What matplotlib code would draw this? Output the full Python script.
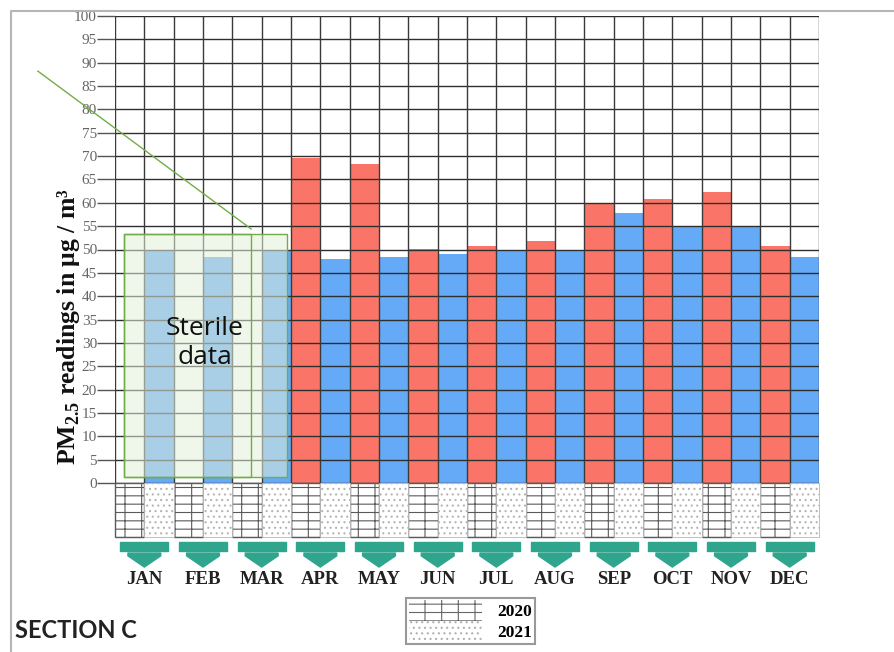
import numpy as np
import matplotlib.pyplot as plt
from matplotlib.patches import Rectangle, Polygon, Patch
from matplotlib.lines import Line2D

plt.rcParams['mathtext.fontset'] = 'custom'
plt.rcParams['mathtext.rm'] = 'Liberation Serif:bold'
plt.rcParams['mathtext.bf'] = 'Liberation Serif:bold'
plt.rcParams['hatch.linewidth'] = 0.8

# Дані (PM2.5, мкг/м3)
months = ['JAN', 'FEB', 'MAR', 'APR', 'MAY', 'JUN',
          'JUL', 'AUG', 'SEP', 'OCT', 'NOV', 'DEC']
pm_2020 = [np.nan, np.nan, np.nan, 69.5, 68.4, 50.1, 50.7, 51.8, 60.0, 60.8, 62.3, 50.8]
pm_2021 = [49.8, 48.4, 49.8, 48.0, 48.4, 49.0, 50.0, 50.0, 57.8, 55.0, 55.0, 48.5]
years = ['2020', '2021']
yticks = list(range(0, 101, 5))

red = '#fa7568'
blue = '#65aaf6'
teal = '#2fa58d'
green = '#70ad47'

fig = plt.figure(figsize=(8.95, 6.52), dpi=100)
ax = fig.add_axes([115 / 895, 1 - 483 / 652, 704 / 895, 467 / 652])

x20 = np.arange(len(months)) * 2
x21 = x20 + 1

ax.bar(x20, np.nan_to_num(pm_2020), width=1, align='edge', color=red, zorder=2)
ax.bar(x21, pm_2021, width=1, align='edge', color=blue, zorder=2)

# нижні заштриховані блоки
ax.bar(x20, -11.6, width=1, align='edge', color='white', edgecolor='#5a5a5a',
       hatch='--|', linewidth=1.0, clip_on=False, zorder=2)
ax.bar(x21, -11.6, width=1, align='edge', color='white', edgecolor='#b5b5b5',
       hatch='...', linewidth=0.6, clip_on=False, zorder=2)

# сітка
ax.set_xlim(0, 24)
ax.set_ylim(0, 100)
ax.set_yticks(yticks)
ax.yaxis.grid(True, color='#2e2e2e', linewidth=1.0, zorder=3)
ax.set_axisbelow(False)
ax.vlines(np.arange(25), 0, 100, color='#3a3a3a', linewidth=1.0, zorder=3)
for s in ax.spines.values():
    s.set_visible(False)
ax.tick_params(axis='y', length=13, width=1.0, color='#555555', pad=0,
               labelsize=11, labelcolor='#666666')
for t in ax.get_yticklabels():
    t.set_fontfamily('Liberation Serif')

ax.set_xticks(x21)
ax.set_xticklabels(months, fontfamily='Liberation Serif', fontweight='bold',
                   fontsize=13.5, color='#222222')
ax.tick_params(axis='x', length=0, pad=63)

ax.set_ylabel(r'PM$_{\mathbf{2.5}}$ readings in μg / m³',
              fontfamily='Liberation Serif', fontweight='bold', fontsize=18.5,
              color='#111111')
ax.yaxis.set_label_coords(-33 / 704, 0.334)

# стрілки
for c in x21:
    top = Polygon([(c - 0.82, -12.6), (c + 0.82, -12.6), (c + 0.82, -14.6), (c - 0.82, -14.6)],
                  closed=True, color=teal, clip_on=False, zorder=4)
    low = Polygon([(c - 0.56, -15.0), (c + 0.56, -15.0), (c + 0.56, -15.6), (c, -18.0),
                   (c - 0.56, -15.6)], closed=True, color=teal, clip_on=False, zorder=4)
    ax.add_patch(top)
    ax.add_patch(low)

# блок "Sterile data"
ax.add_patch(Rectangle((0.31, 1.3), 5.55, 52.0, facecolor='#e2efda', alpha=0.55,
                       edgecolor='none', zorder=5, clip_on=False))
ax.add_patch(Rectangle((0.31, 1.3), 5.55, 52.0, facecolor='none', edgecolor=green,
                       linewidth=1.0, zorder=6, clip_on=False))
ax.add_patch(Rectangle((0.31, 1.3), 4.33, 52.0, facecolor='none', edgecolor=green,
                       linewidth=1.0, zorder=6, clip_on=False))
ax.plot([-2.63, 4.64], [88.2, 54.4], color=green, linewidth=1.0, zorder=6, clip_on=False)
ax.text(3.07, 30, 'Sterile\ndata', ha='center', va='center', fontsize=19,
        fontfamily='Open Sans', color='#111111', zorder=7, linespacing=1.2)

# легенда
handles = [Patch(facecolor='white', edgecolor='#666666', hatch='--|', linewidth=0),
           Patch(facecolor='white', edgecolor='#b0b0b0', hatch='...', linewidth=0)]
leg = fig.legend(handles, years, loc='center', bbox_to_anchor=(470.5 / 895, 1 - 621 / 652),
                 prop={'family': 'Liberation Serif', 'weight': 'bold', 'size': 12.5},
                 handlelength=4.2, handleheight=1.45, labelspacing=0.0,
                 handletextpad=0.9, borderpad=0.15, borderaxespad=0,
                 fancybox=False, edgecolor='#999999', framealpha=1)
leg.get_frame().set_linewidth(1.5)

fig.text(15 / 895, 1 - 631 / 652, 'SECTION C', fontfamily='Lato', fontweight='bold',
         fontsize=17, color='#222222', va='center', ha='left')

# рамка
fig.add_artist(Line2D([11 / 895, 11 / 895, 1], [0, 1 - 11 / 652, 1 - 11 / 652],
                      transform=fig.transFigure, color='#b5b5b5', linewidth=1.5))

plt.savefig('out.png', dpi=100)
